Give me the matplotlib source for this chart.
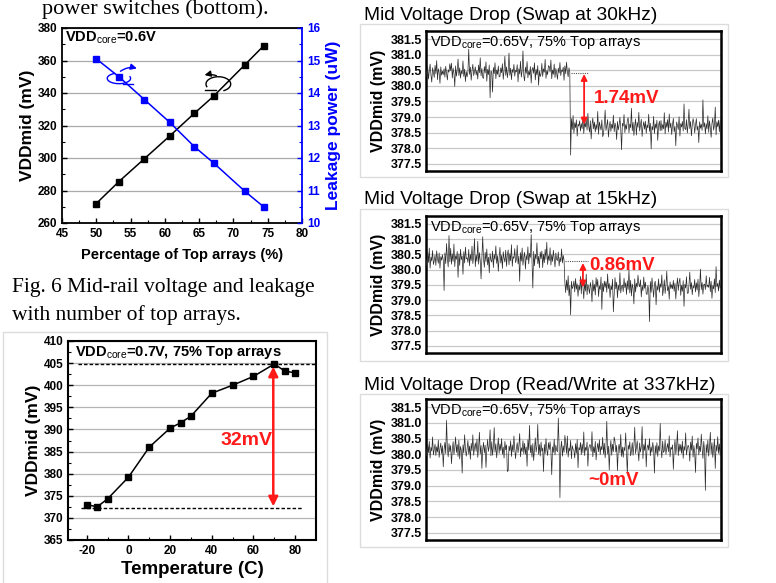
import numpy as np
import matplotlib
matplotlib.use('Agg')
import matplotlib.pyplot as plt
from matplotlib.patches import Rectangle, Arc

plt.rcParams['font.family'] = ['Liberation Sans', 'DejaVu Sans']
plt.rcParams['mathtext.fontset'] = 'custom'
plt.rcParams['mathtext.rm'] = 'Liberation Sans'
plt.rcParams['mathtext.bf'] = 'Liberation Sans:bold'
plt.rcParams['axes.unicode_minus'] = False

# ---------------- data ----------------
pct_top = [50.0, 53.3, 57.0, 60.7, 64.3, 67.1, 71.7, 74.4]
vddmid_pct = [272.0, 285.5, 299.5, 313.5, 327.5, 338.0, 357.5, 369.0]
leakage_uw = [15.05, 14.5, 13.8, 13.1, 12.35, 11.85, 10.97, 10.5]

temp_c = [-20, -15, -10, 0, 10, 20, 25, 30, 40, 50, 60, 70, 75, 80]
vddmid_temp = [373.0, 372.5, 374.3, 379.2, 386.0, 390.3, 391.5, 393.0,
               398.2, 400.0, 402.0, 404.8, 403.2, 402.8]
temp_max_level = 404.9
temp_min_level = 372.3

swap30_before = [
    380.52, 380.31, 380.63, 380.22, 380.48, 380.70, 380.35, 380.12, 380.58, 380.44,
    380.27, 380.66, 380.39, 380.81, 380.20, 380.55, 380.43, 380.08, 380.61, 380.34,
    380.47, 380.36, 380.55, 380.28, 380.63, 380.41, 380.19, 380.52, 380.44, 380.71,
    380.49, 380.73, 380.25, 380.57, 380.40, 379.98, 380.64, 380.31, 380.52, 380.86,
    380.33, 380.58, 380.25, 380.49, 380.38, 380.80, 380.30, 380.54, 380.14, 380.46,
    380.29, 380.45, 381.18, 380.37, 380.60, 380.18, 380.50, 380.69, 380.33, 380.46,
    380.61, 380.35, 380.50, 380.22, 380.67, 380.42, 380.90, 380.32, 380.56, 380.27,
    380.24, 380.62, 380.41, 380.77, 380.15, 380.53, 380.36, 380.67, 379.62, 380.47,
    380.45, 379.80, 380.59, 380.39, 380.74, 380.23, 380.51, 380.37, 380.64, 380.29,
    380.30, 380.58, 380.42, 380.71, 380.21, 380.50, 380.95, 380.34, 380.61, 380.26,
    380.48, 381.05, 380.34, 380.57, 380.20, 380.53, 380.43, 380.69, 380.31, 380.50,
    380.45, 380.68, 380.13, 380.55, 380.38, 380.79, 380.28, 380.49, 381.12, 380.32,
    380.16, 380.60, 380.40, 380.78, 380.26, 380.47, 380.35, 380.62, 380.09, 380.52,
    380.59, 380.40, 380.74, 380.19, 380.53, 380.35, 380.65, 380.02, 380.48, 380.30,
    380.38, 380.72, 380.30, 380.55, 380.44, 380.85, 380.24, 380.49, 380.36, 380.65,
    380.62, 380.44, 380.83, 380.23, 380.51, 380.37, 380.70, 380.27, 380.56, 380.41,
    380.21, 380.57, 380.41, 380.75, 380.33, 380.51, 380.46, 380.60,
    380.18, 380.64, 380.39, 380.76, 380.46, 380.29, 380.58, 380.43]
swap30_after = [
    377.78, 378.95, 378.60, 379.05, 378.48, 378.82, 378.66, 378.91, 378.39, 378.77,
    378.71, 378.88, 378.55, 378.79, 378.63, 379.00, 378.47, 378.82, 378.68, 378.93,
    378.58, 379.12, 378.70, 378.52, 378.88, 378.30, 378.75, 378.97, 378.62, 378.84,
    378.52, 378.76, 378.60, 379.18, 378.45, 378.84, 378.70, 378.58, 378.91, 378.37,
    378.45, 378.79, 379.22, 378.57, 378.73, 378.92, 378.36, 378.68, 378.86, 378.54,
    378.77, 378.64, 379.06, 378.53, 378.81, 378.69, 378.28, 378.86, 378.59, 378.74,
    378.99, 378.63, 377.95, 378.80, 378.71, 379.08, 378.50, 378.76, 378.61, 378.89,
    378.98, 378.50, 378.78, 378.66, 379.28, 378.56, 378.83, 378.41, 378.72, 378.94,
    378.42, 378.83, 378.67, 379.15, 378.55, 378.74, 378.93, 378.38, 378.69, 378.85,
    378.61, 378.87, 378.48, 378.75, 378.65, 379.09, 378.54, 378.80, 377.98, 378.70,
    378.59, 379.02, 378.47, 378.78, 378.64, 378.90, 378.25, 378.72, 378.87, 378.56,
    378.89, 378.57, 378.76, 378.62, 379.14, 378.46, 378.84, 378.67, 378.92, 378.52,
    379.10, 378.65, 378.81, 378.44, 378.75, 378.96, 378.53, 378.70, 378.08, 378.84,
    378.73, 378.60, 379.01, 378.39, 378.79, 378.68, 378.86, 378.55, 379.42, 378.63,
    378.60, 378.92, 378.49, 378.77, 379.25, 378.63, 378.86, 378.40, 378.73, 378.95,
    378.81, 378.49, 378.75, 378.95, 378.58, 378.71, 378.18, 378.85, 378.64, 378.77,
    378.57, 379.55, 378.68, 378.82, 378.46, 378.79, 378.62, 379.04, 378.51, 378.88,
    378.66, 378.35, 378.80, 378.97, 378.58, 378.74, 379.32, 378.43, 378.85, 378.69,
    378.90, 378.53, 378.90, 378.10]
swap30_level = 380.42

swap15_before = [
    380.35, 380.12, 380.58, 380.24, 380.71, 380.05, 380.42, 380.28, 380.63, 380.17,
    380.29, 380.48, 380.14, 380.62, 380.36, 380.21, 380.55, 380.05, 380.43, 380.31,
    380.49, 380.31, 379.32, 380.55, 380.20, 380.86, 380.38, 380.09, 381.12, 380.26,
    380.70, 380.18, 380.52, 380.27, 380.84, 380.10, 380.46, 380.34, 380.60, 379.75,
    380.52, 380.14, 380.67, 380.33, 380.45, 379.85, 380.59, 380.22, 380.74, 380.36,
    380.39, 380.24, 380.66, 380.13, 380.50, 380.30, 380.77, 380.20, 380.44, 381.02,
    380.10, 380.48, 380.27, 380.93, 380.18, 380.56, 380.30, 379.70, 380.44, 381.08,
    380.35, 380.08, 380.57, 380.26, 380.68, 380.16, 380.41, 379.90, 380.53, 380.32,
    380.25, 380.61, 380.07, 380.50, 380.34, 380.78, 380.21, 380.46, 379.95, 380.39,
    380.73, 380.22, 380.47, 380.04, 380.59, 380.37, 380.25, 380.64, 380.11, 380.49,
    380.65, 380.16, 380.53, 380.29, 380.82, 380.11, 380.43, 380.37, 380.69, 380.23,
    380.33, 380.80, 380.19, 380.45, 379.62, 380.56, 380.28, 380.71, 380.15, 380.42,
    380.57, 380.02, 380.47, 380.32, 380.75, 380.19, 380.54, 380.40, 381.15, 380.26,
    379.40, 380.60, 380.13, 380.51, 380.35, 380.88, 380.20, 380.44, 380.06, 380.58,
    380.36, 380.61, 380.07, 380.51, 380.23, 380.67, 380.34, 380.90, 380.17, 380.46,
    380.30, 380.72, 380.15, 380.49, 380.27, 380.64, 380.38, 380.09, 380.55, 380.33,
    380.30, 380.58, 380.12, 380.40, 380.26,
    380.68, 380.22, 380.47, 380.31]
swap15_after = [
    379.58, 379.25, 379.66, 379.33, 379.80, 379.15, 379.49, 378.52, 379.62, 379.38,
    379.45, 379.63, 379.27, 379.71, 379.36, 379.54, 379.13, 379.49, 379.33, 379.78,
    379.21, 379.71, 379.44, 379.05, 379.57, 379.30, 379.85, 379.18, 379.52, 379.40,
    379.22, 379.58, 379.40, 378.95, 379.66, 379.30, 379.52, 379.17, 379.74, 379.43,
    379.68, 379.12, 379.47, 379.35, 379.76, 378.70, 379.55, 379.28, 379.63, 379.42,
    379.61, 379.26, 379.86, 379.38, 379.55, 379.09, 379.47, 379.34, 379.69, 378.62,
    379.20, 379.74, 379.37, 379.59, 379.08, 379.50, 379.32, 379.90, 379.24, 379.46,
    379.50, 379.28, 379.72, 379.41, 379.57, 379.19, 379.64, 379.35, 379.98, 379.24,
    379.65, 379.14, 379.53, 379.39, 378.88, 379.70, 379.27, 379.56, 379.43, 379.82,
    379.53, 379.44, 379.67, 379.11, 379.48, 379.31, 379.76, 379.39, 379.59, 379.21,
    379.19, 379.48, 379.34, 378.30, 379.61, 379.26, 379.73, 379.41, 379.10, 379.54,
    379.62, 378.85, 379.46, 379.33, 379.70, 379.26, 379.54, 379.42, 379.83, 379.15,
    379.36, 379.67, 379.22, 379.50, 379.95, 379.31, 379.45, 379.03, 379.60, 379.38,
    379.51, 379.37, 379.65, 379.29, 379.56, 379.04, 379.44, 379.73, 379.32, 379.60,
    379.72, 379.16, 379.49, 379.29, 379.64, 378.80, 379.52, 379.40, 379.77, 379.23,
    379.23, 379.49, 379.92, 379.36, 379.58, 379.18, 379.47, 379.40, 379.68, 379.27,
    379.57, 379.33, 379.69, 379.12, 379.46, 380.02, 379.35, 379.58, 379.20, 379.51,
    379.53, 379.35, 379.80, 379.43, 379.50,
    379.42, 379.75, 379.28, 379.62, 379.06, 379.48, 379.37, 379.70, 379.25, 380.10,
    379.44, 379.55, 379.30, 379.66, 379.39, 379.47]
swap15_level = 380.27

rw337 = [
    380.18, 379.95, 380.32, 380.05, 380.41, 379.88, 380.22, 380.10, 380.55, 379.98,
    380.15, 380.32, 379.96, 380.24, 380.07, 380.45, 379.90, 380.19, 380.36, 380.02,
    380.27, 379.60, 380.15, 380.38, 380.02, 381.08, 380.20, 379.92, 380.34, 380.08,
    380.28, 379.70, 380.13, 380.40, 379.99, 380.22, 380.55, 380.06, 380.31, 379.93,
    380.45, 379.85, 380.25, 380.12, 379.40, 380.30, 380.04, 380.62, 380.16, 379.94,
    380.17, 380.44, 380.01, 380.26, 379.84, 380.35, 380.11, 380.62, 379.97, 380.20,
    380.36, 380.09, 380.48, 379.90, 380.21, 380.70, 380.01, 380.28, 379.55, 380.14,
    380.38, 380.04, 380.29, 379.58, 380.16, 380.47, 380.09, 380.25, 380.78, 379.95,
    380.40, 379.97, 380.24, 380.85, 380.06, 380.33, 379.89, 380.19, 380.52, 380.03,
    380.33, 380.12, 380.50, 380.00, 380.23, 379.88, 380.41, 380.14, 380.30, 379.45,
    379.48, 380.26, 380.11, 380.43, 379.93, 380.30, 380.07, 380.58, 380.17, 379.86,
    380.19, 380.37, 380.05, 380.27, 380.66, 379.92, 380.21, 380.09, 380.43, 380.02,
    380.35, 380.00, 380.23, 379.62, 380.46, 380.13, 380.92, 380.05, 380.29, 379.91,
    380.34, 379.80, 380.18, 380.52, 380.07, 380.26, 380.95, 380.00, 380.31, 379.94,
    380.39, 380.10, 380.20, 379.45, 380.31, 380.02, 380.50, 380.15, 379.96, 380.37,
    380.15, 380.40, 380.11, 379.35, 380.24, 380.06, 380.48, 379.98, 380.29, 380.13,
    380.08, 381.15, 380.25, 378.62, 380.19, 380.42, 379.94, 380.27, 380.06, 380.60,
    380.36, 380.03, 380.58, 379.91, 380.20, 380.10, 380.44, 379.86, 380.27, 380.16,
    380.12, 379.88, 380.34, 380.03, 380.47, 379.57, 380.21, 380.14, 380.38, 379.99,
    380.33, 380.05, 380.71, 379.96, 380.22, 380.12, 380.39, 379.62, 380.18, 380.30,
    380.30, 380.09, 380.72, 379.92, 380.24, 380.05, 380.41, 379.82, 380.18, 380.35,
    380.08, 380.46, 379.99, 380.25, 380.14, 380.54, 380.01, 380.35, 379.89, 380.21,
    381.05, 380.01, 380.26, 379.50, 380.15, 380.44, 379.97, 380.32, 380.08, 380.55,
    380.41, 380.07, 380.28, 379.48, 380.17, 380.32, 380.04, 380.63, 379.93, 380.23,
    379.90, 380.22, 380.11, 380.68, 380.04, 379.38, 380.29, 380.16, 380.40, 379.95,
    380.10, 380.37, 379.97, 380.26, 380.86, 380.02, 380.19, 380.43, 380.09, 379.79,
    380.36, 380.07, 380.23, 380.88, 379.86, 380.31, 380.12, 380.49, 379.60, 380.20,
    380.30, 380.13, 380.50, 379.95, 380.24, 380.06, 380.38, 380.15, 379.40, 380.27,
    380.02, 380.37, 379.93, 380.27, 380.10, 380.98, 380.18, 379.89, 380.42, 380.06,
    380.11, 380.45, 380.00, 380.20, 380.34, 380.08, 380.59, 379.92, 380.22, 380.16,
    380.30, 379.52, 380.14, 380.46, 380.00, 380.25, 380.75, 379.96, 380.33, 380.09,
    380.31, 380.03, 380.42, 379.87, 380.25, 380.12, 380.68, 379.98, 380.18, 380.29,
    380.21, 379.78, 380.39, 380.13, 380.58, 379.91, 380.28, 380.04, 379.42, 380.35,
    380.17, 380.52, 379.98, 380.26, 380.08, 380.64, 380.20, 379.87, 380.41, 380.11,
    378.85, 380.31, 380.05, 380.45, 379.94, 380.24, 380.70, 380.02, 380.37, 379.90,
    380.18, 380.48, 379.55, 380.29, 380.10, 380.56, 380.03, 380.33, 379.97, 380.22]

trace_yticks = [377.5, 378.0, 378.5, 379.0, 379.5, 380.0, 380.5, 381.0, 381.5]

# ---------------- figure ----------------
W, H = 776, 583
fig = plt.figure(figsize=(W / 100, H / 100), dpi=100)


def rect(l, t, r, b):
    return [l / W, 1 - b / H, (r - l) / W, (b - t) / H]


def ftext(x, y, s, **kw):
    fig.text(x / W, 1 - y / H, s, **kw)


def frame(l, t, r, b):
    fig.patches.append(Rectangle((l / W, 1 - b / H), (r - l) / W, (b - t) / H,
                                 transform=fig.transFigure, fill=False,
                                 edgecolor='#dcdcdc', lw=1.0))


# captions (serif)
ftext(42, 14, 'power switches (bottom).', family='Liberation Serif',
      fontsize=16, va='baseline', ha='left')
ftext(12, 292, 'Fig. 6 Mid-rail voltage and leakage', family='Liberation Serif',
      fontsize=15.5, va='baseline', ha='left')
ftext(12, 320, 'with number of top arrays.', family='Liberation Serif',
      fontsize=15.5, va='baseline', ha='left')

# ---------- Panel 1 ----------
ax1 = fig.add_axes(rect(62, 28, 302, 223))
ax1.set_axisbelow(True)
ax1.plot(pct_top, vddmid_pct, color='black', marker='s', ms=5, lw=1.1, zorder=3)
ax1.set_xlim(45, 80)
ax1.set_ylim(260, 380)
ax1.set_xticks(np.arange(45, 81, 5))
ax1.set_yticks(np.arange(260, 381, 20))
ax1.set_xticks(np.arange(45, 80, 2.5), minor=True)
ax1.set_yticks(np.arange(260, 380, 10), minor=True)
ax1.grid(axis='y', which='major', color='#aaaaaa', lw=0.9)
ax1.tick_params(direction='in', labelsize=8.5, length=3.5, width=1)
ax1.tick_params(which='minor', direction='in', length=2, width=0.8)
for lab in ax1.get_xticklabels() + ax1.get_yticklabels():
    lab.set_fontweight('bold')
for s in ['left', 'top', 'bottom']:
    ax1.spines[s].set_linewidth(1.3)
ax1.spines['right'].set_visible(False)
ax1.set_ylabel('VDDmid (mV)', fontsize=12.5, fontweight='bold', labelpad=2)
ax1.set_xlabel('Percentage of Top arrays (%)', fontsize=10.5, fontweight='bold', labelpad=6)
ax1.text(0.013, 0.95, r'VDD$_{\mathrm{core}}$=0.6V', transform=ax1.transAxes,
         fontsize=10.5, fontweight='bold', va='center', ha='left')

ax1b = ax1.twinx()
ax1b.plot(pct_top, leakage_uw, color='#0000ff', marker='s', ms=5, lw=1.1, zorder=3)
ax1b.set_ylim(10, 16)
ax1b.set_yticks(np.arange(10, 17, 1))
ax1b.set_yticks(np.arange(10, 16, 0.5), minor=True)
ax1b.tick_params(axis='y', colors='#0000ff', direction='in', labelsize=8.5, length=3.5, width=1)
ax1b.tick_params(axis='y', which='minor', colors='#0000ff', direction='in', length=2, width=0.8)
for lab in ax1b.get_yticklabels():
    lab.set_fontweight('bold')
ax1b.spines['right'].set_color('#0000ff')
ax1b.spines['right'].set_linewidth(1.3)
for s in ['left', 'top', 'bottom']:
    ax1b.spines[s].set_visible(False)
ax1b.set_ylabel('Leakage power (uW)', fontsize=12.5, fontweight='bold',
                color='#0000ff', labelpad=4)

# circular arrows
ax1.add_patch(Arc((53.3, 349.0), 3.4, 6.5, theta1=100, theta2=400,
                  color='#0000ff', lw=1.0, zorder=4))
ax1.plot([53.9, 55.4], [345.8, 345.8], color='#0000ff', lw=1.0, zorder=4)
ax1.annotate('', xy=(56.3, 354.6), xytext=(53.2, 352.3),
             arrowprops=dict(arrowstyle='-|>', color='#0000ff', lw=1.0,
                             connectionstyle='arc3,rad=-0.3', mutation_scale=9))
ax1.add_patch(Arc((67.8, 345.5), 3.6, 9.0, theta1=-80, theta2=230,
                  color='black', lw=1.0, zorder=4))
ax1.plot([65.8, 67.4], [341.6, 341.6], color='black', lw=1.0, zorder=4)
ax1.annotate('', xy=(65.4, 350.6), xytext=(67.9, 350.0),
             arrowprops=dict(arrowstyle='-|>', color='black', lw=1.0,
                             connectionstyle='arc3,rad=0.2', mutation_scale=9))

# ---------- Panel 2 ----------
frame(3, 332, 327, 590)
ax2 = fig.add_axes(rect(68, 341, 316, 540))
ax2.set_axisbelow(True)
ax2.plot(temp_c, vddmid_temp, color='black', marker='s', ms=5, lw=1.1, zorder=3)
ax2.set_xlim(-29, 90)
ax2.set_ylim(365, 410)
ax2.set_xticks(np.arange(-20, 81, 20))
ax2.set_xticks(np.arange(-20, 90, 10), minor=True)
ax2.set_yticks(np.arange(365, 411, 5))
ax2.set_yticks(np.arange(365, 410, 2.5), minor=True)
ax2.grid(axis='y', which='major', color='#b5b5b5', lw=0.9)
ax2.tick_params(direction='in', labelsize=8.5, length=3.5, width=1)
ax2.tick_params(which='minor', direction='in', length=2, width=0.8)
for lab in ax2.get_xticklabels() + ax2.get_yticklabels():
    lab.set_fontweight('bold')
for s in ax2.spines.values():
    s.set_linewidth(1.5)
ax2.plot([-24, 90], [temp_max_level, temp_max_level], color='black', lw=1.0,
         ls=(0, (2.5, 1.5)), zorder=2)
ax2.plot([-23, 84], [temp_min_level, temp_min_level], color='black', lw=1.0,
         ls=(0, (2.5, 1.5)), zorder=2)
ax2.annotate('', xy=(69.5, temp_min_level + 0.3), xytext=(69.5, temp_max_level - 0.7),
             arrowprops=dict(arrowstyle='<|-|>', color='#ff1a1a', lw=1.8,
                             mutation_scale=14, shrinkA=0, shrinkB=0))
ax2.text(56.5, 387.6, '32mV', color='#ff1a1a', fontsize=14, fontweight='bold',
         ha='center', va='center')
ax2.text(0.03, 0.94, r'VDD$_{\mathrm{core}}$=0.7V, 75% Top arrays', transform=ax2.transAxes,
         fontsize=10.5, fontweight='bold', va='center', ha='left')
ax2.set_ylabel('VDDmid (mV)', fontsize=12.5, fontweight='bold', labelpad=2)
ax2.set_xlabel('Temperature (C)', fontsize=13.5, fontweight='bold', labelpad=3)


# ---------- Right panels ----------
def trace_panel(box, frm, title_y, title, values, level=None, step=None,
                arrow_top=None, arrow_bot=None, arrow_x=None, dot_x1=None,
                label=None, label_xy=None):
    frame(*frm)
    ftext(364, title_y, title, fontsize=13.8, va='center', ha='left')
    ax = fig.add_axes(rect(*box))
    ax.set_axisbelow(True)
    x = np.arange(len(values))
    ax.plot(x, values, color='#2a2a2a', lw=0.5, zorder=3)
    ax.set_xlim(0, len(values) - 1)
    ax.set_ylim(377.27, 381.76)
    ax.set_yticks(trace_yticks)
    ax.set_yticklabels(['%.1f' % v for v in trace_yticks])
    ax.set_xticks([])
    ax.grid(axis='y', color='#c8c8c8', lw=0.9)
    ax.tick_params(axis='y', length=0, pad=3, labelsize=9)
    for lab in ax.get_yticklabels():
        lab.set_fontweight('bold')
    for s in ax.spines.values():
        s.set_linewidth(1.8)
    ax.set_ylabel('VDDmid (mV)', fontsize=11.5, fontweight='bold', labelpad=3)
    ax.text(0.012, 0.915, r'VDD$_{\mathrm{core}}$=0.65V, 75% Top arrays',
            transform=ax.transAxes, fontsize=10.5, va='center', ha='left')
    n = len(values) - 1
    if step is not None:
        ax.plot([step * n, dot_x1 * n], [level, level], color='#555555', lw=0.8,
                ls=(0, (1, 1)), zorder=4)
        ax.annotate('', xy=(arrow_x * n, arrow_bot), xytext=(arrow_x * n, arrow_top),
                    arrowprops=dict(arrowstyle='<|-|>', color='#ff1a1a', lw=1.3,
                                    mutation_scale=9, shrinkA=0, shrinkB=0), zorder=5)
    ax.text(label_xy[0] * n, label_xy[1], label, color='#ff1a1a', fontsize=13.5,
            fontweight='bold', ha='center', va='center', zorder=6)
    return ax


trace_panel((426, 31, 721, 171), (360, 24, 728, 177), 15,
            'Mid Voltage Drop (Swap at 30kHz)', swap30_before + swap30_after,
            level=swap30_level, step=0.49, arrow_top=380.38, arrow_bot=378.76,
            arrow_x=0.536, dot_x1=0.55, label='1.74mV', label_xy=(0.68, 379.6))
trace_panel((426, 216, 721, 353), (360, 209, 728, 361), 199,
            'Mid Voltage Drop (Swap at 15kHz)', swap15_before + swap15_after,
            level=swap15_level, step=0.47, arrow_top=380.22, arrow_bot=379.42,
            arrow_x=0.532, dot_x1=0.55, label='0.86mV', label_xy=(0.665, 380.14))
trace_panel((426, 399, 721, 540), (360, 394, 728, 547), 385,
            'Mid Voltage Drop (Read/Write at 337kHz)', rw337,
            label='~0mV', label_xy=(0.635, 379.16))

fig.savefig('out.png', dpi=100)
